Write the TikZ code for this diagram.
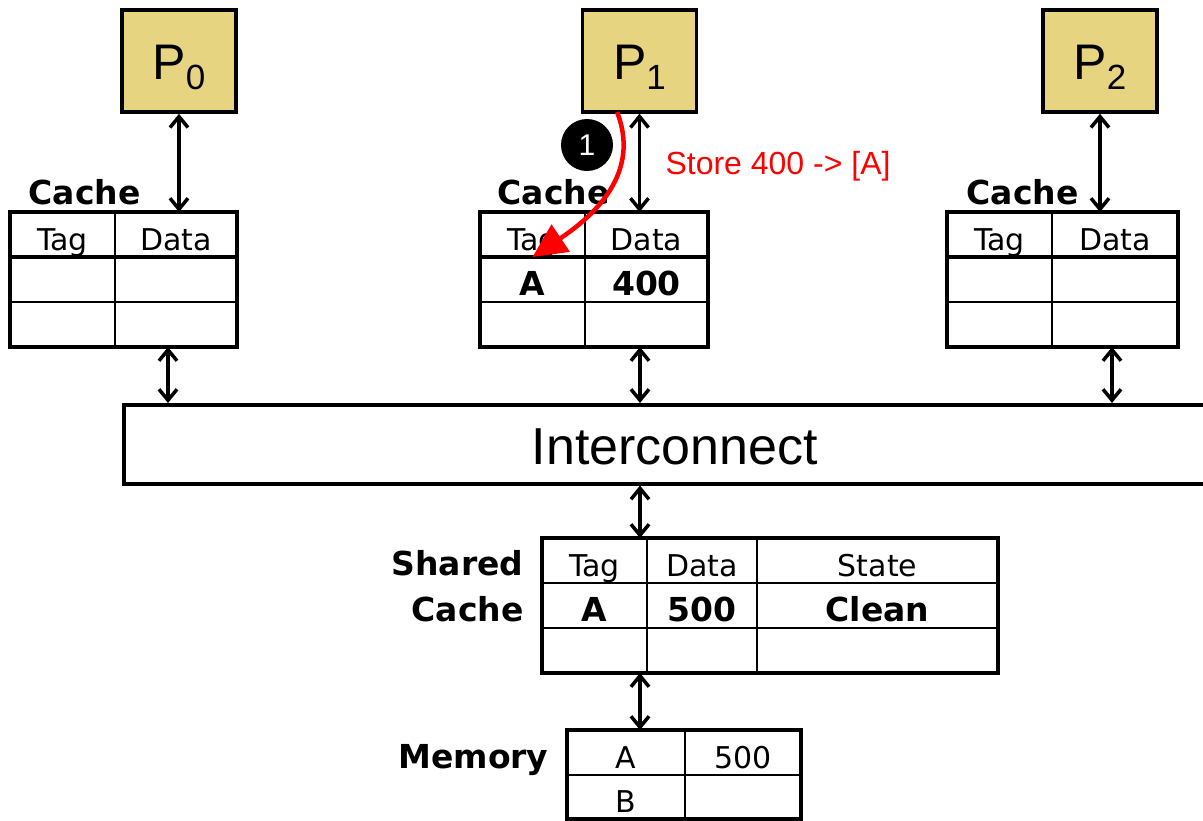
\documentclass[tikz,border=0pt]{standalone}
\usepackage{fontspec}
\setmainfont{DejaVu Sans}
\newfontfamily\arialfont{Liberation Sans}
\usepackage{xcolor}
\usetikzlibrary{positioning,arrows.meta}
\definecolor{procfill}{RGB}{231,212,128}

\begin{document}
\begin{tikzpicture}
[
x=1pt, y=-1pt,
proc/.style={draw, line width=3.5pt, fill=procfill, minimum width=114pt, minimum height=102pt, inner sep=0pt, text height=36pt, text depth=0pt, font=\arialfont\fontsize{50}{50}\selectfont},
cell/.style={draw, line width=2.2pt, outer sep=0pt, inner sep=0pt, minimum height=45pt, text height=31pt, text depth=0pt, font=\fontsize{30}{30}\selectfont},
bcell/.style={cell, font=\fontsize{33}{33}\selectfont\bfseries},
frame/.style={line width=3.5pt},
lbl/.style={font=\fontsize{33}{33}\selectfont\bfseries},
link/.style={{Straight Barb[length=11pt,width=18pt]}-{Straight Barb[length=11pt,width=18pt]}, line width=3.5pt},
store-arrow/.style={red, line width=4.5pt, -{Triangle[length=34pt,width=32pt]}}
]
\useasboundingbox (0,0) rectangle (1203,820);

% processors
\node (p0) [proc] at (179,61)   {P\raisebox{-10pt}{\fontsize{35}{35}\selectfont 0}};
\node (p1) [proc] at (639.5,61) {P\raisebox{-10pt}{\fontsize{35}{35}\selectfont 1}};
\node (p2) [proc] at (1100,61)  {P\raisebox{-10pt}{\fontsize{35}{35}\selectfont 2}};

% private caches
\node (c0-tag-h) [cell, minimum width=105pt, anchor=north west] at (10,212) {Tag};
\node (c0-dat-h) [cell, minimum width=122pt, right = 0pt of c0-tag-h] {Data};
\node (c0-tag-1) [cell, minimum width=105pt, below = 0pt of c0-tag-h] {};
\node (c0-dat-1) [cell, minimum width=122pt, below = 0pt of c0-dat-h] {};
\node (c0-tag-2) [cell, minimum width=105pt, below = 0pt of c0-tag-1] {};
\node (c0-dat-2) [cell, minimum width=122pt, below = 0pt of c0-dat-1] {};
\draw [frame] (c0-tag-h.north west) rectangle (c0-dat-2.south east);
\draw [frame] (c0-tag-h.south west) -- (c0-dat-h.south east);
\node (c0-lb) [lbl, anchor=base west] at (25,204) {Cache};

\node (c1-tag-h) [cell, minimum width=105pt, anchor=north west] at (480,212) {Tag};
\node (c1-dat-h) [cell, minimum width=123pt, right = 0pt of c1-tag-h] {Data};
\node (c1-tag-1) [bcell, minimum width=105pt, below = 0pt of c1-tag-h] {A};
\node (c1-dat-1) [bcell, minimum width=123pt, below = 0pt of c1-dat-h] {400};
\node (c1-tag-2) [cell, minimum width=105pt, below = 0pt of c1-tag-1] {};
\node (c1-dat-2) [cell, minimum width=123pt, below = 0pt of c1-dat-1] {};
\draw [frame] (c1-tag-h.north west) rectangle (c1-dat-2.south east);
\draw [frame] (c1-tag-h.south west) -- (c1-dat-h.south east);
\node (c1-lb) [lbl, anchor=base west] at (494,204) {Cache};

\node (c2-tag-h) [cell, minimum width=105pt, anchor=north west] at (947,212) {Tag};
\node (c2-dat-h) [cell, minimum width=126pt, right = 0pt of c2-tag-h] {Data};
\node (c2-tag-1) [cell, minimum width=105pt, below = 0pt of c2-tag-h] {};
\node (c2-dat-1) [cell, minimum width=126pt, below = 0pt of c2-dat-h] {};
\node (c2-tag-2) [cell, minimum width=105pt, below = 0pt of c2-tag-1] {};
\node (c2-dat-2) [cell, minimum width=126pt, below = 0pt of c2-dat-1] {};
\draw [frame] (c2-tag-h.north west) rectangle (c2-dat-2.south east);
\draw [frame] (c2-tag-h.south west) -- (c2-dat-h.south east);
\node (c2-lb) [lbl, anchor=base west] at (963,204) {Cache};

% interconnect
\node (ic) [draw, line width=3.5pt, minimum width=1102pt, minimum height=79pt, anchor=north west, inner sep=0pt, text height=41pt, text depth=0pt, font=\arialfont\fontsize{52}{52}\selectfont] at (122,403) {Interconnect};
\coordinate (bus-0) at (168,0);
\coordinate (bus-1) at (640,0);
\coordinate (bus-2) at (1112,0);

% shared cache
\node (sc-tag-h) [cell, minimum width=105pt, anchor=north west] at (542,538) {Tag};
\node (sc-dat-h) [cell, minimum width=110pt, right = 0pt of sc-tag-h] {Data};
\node (sc-sta-h) [cell, minimum width=241pt, right = 0pt of sc-dat-h] {State};
\node (sc-tag-1) [bcell, minimum width=105pt, below = 0pt of sc-tag-h] {A};
\node (sc-dat-1) [bcell, minimum width=110pt, below = 0pt of sc-dat-h] {500};
\node (sc-sta-1) [bcell, minimum width=241pt, below = 0pt of sc-sta-h] {Clean};
\node (sc-tag-2) [cell, minimum width=105pt, below = 0pt of sc-tag-1] {};
\node (sc-dat-2) [cell, minimum width=110pt, below = 0pt of sc-dat-1] {};
\node (sc-sta-2) [cell, minimum width=241pt, below = 0pt of sc-sta-1] {};
\draw [frame] (sc-tag-h.north west) rectangle (sc-sta-2.south east);
\node (sc-lb-1) [lbl, anchor=base east] at (527,575) {Shared};
\node (sc-lb-2) [lbl, anchor=base east] at (527,621) {Cache};

% memory
\node (m-tag-1) [cell, minimum width=118pt, anchor=north west] at (567,730) {A};
\node (m-dat-1) [cell, minimum width=116pt, right = 0pt of m-tag-1] {500};
\node (m-tag-2) [cell, minimum width=118pt, minimum height=44pt, below = 0pt of m-tag-1] {B};
\node (m-dat-2) [cell, minimum width=116pt, minimum height=44pt, below = 0pt of m-dat-1] {};
\draw [frame] (m-tag-1.north west) rectangle (m-dat-2.south east);
\node (m-lb) [lbl, anchor=base east] at (552,768) {Memory};

% connections
\draw [link] (p0.south) -- (p0.south |- c0-dat-h.north);
\draw [link] (p1.south) -- (p1.south |- c1-dat-h.north);
\draw [link] (p2.south) -- (p2.south |- c2-dat-h.north);
\draw [link] (bus-0 |- c0-dat-2.south) -- (bus-0 |- ic.north);
\draw [link] (bus-1 |- c1-dat-2.south) -- (bus-1 |- ic.north);
\draw [link] (bus-2 |- c2-dat-2.south) -- (bus-2 |- ic.north);
\draw [link] (bus-1 |- ic.south) -- (bus-1 |- sc-tag-h.north);
\draw [link] (bus-1 |- sc-tag-2.south) -- (bus-1 |- m-tag-1.north);

% store request
\node (num-1) [circle, fill=black, minimum size=52pt, inner sep=0pt, text=white, font=\arialfont\fontsize{30}{30}\selectfont] at (587,145) {1};
\node (store) [anchor=base west, text=red, font=\arialfont\fontsize{32}{32}\selectfont] at (662,174) {Store 400 -> [A]};
\coordinate (st) at (617,112);
\draw [store-arrow] (st) .. controls (632,150) and (625,195) .. (c1-tag-h.south);
\end{tikzpicture}
\end{document}
